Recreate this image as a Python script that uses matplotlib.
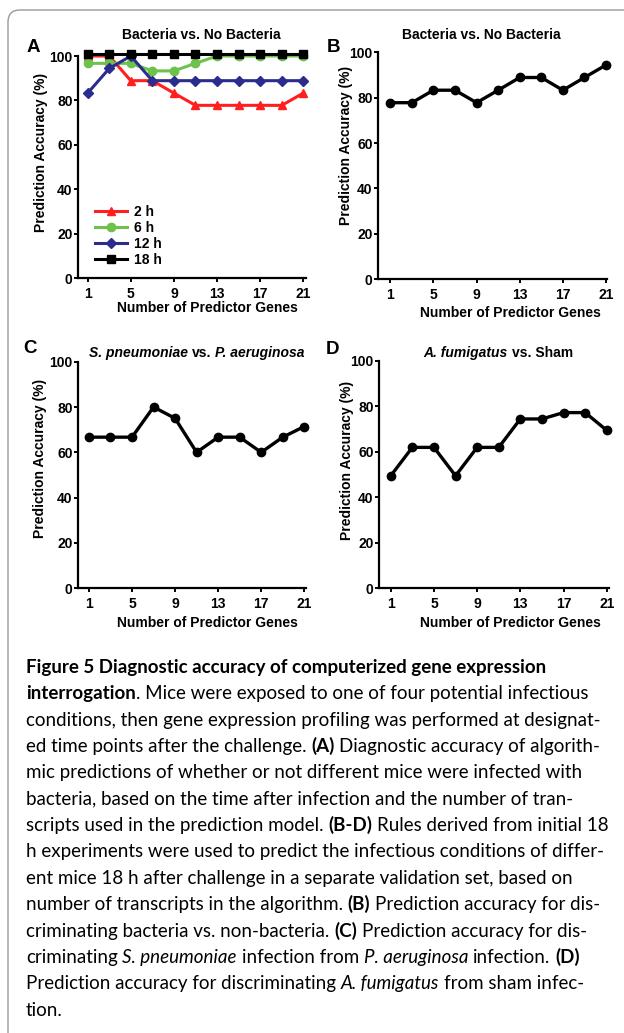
import re
import matplotlib
matplotlib.use('Agg')
import matplotlib.pyplot as plt
from matplotlib.patches import FancyBboxPatch
from matplotlib.transforms import IdentityTransform

W, H = 624, 1033
fig = plt.figure(figsize=(W / 100, H / 100), dpi=100)
renderer = fig.canvas.get_renderer()

# data
n_genes = [1, 3, 5, 7, 9, 11, 13, 15, 17, 19, 21]
acc_2h = [100, 100, 88.9, 88.9, 83.3, 77.8, 77.8, 77.8, 77.8, 77.8, 83.3]
acc_6h = [96.7, 96.7, 96.7, 93.3, 93.3, 96.7, 100, 100, 100, 100, 100]
acc_12h = [83.3, 94.4, 100, 88.9, 88.9, 88.9, 88.9, 88.9, 88.9, 88.9, 88.9]
acc_18h = [100.7] * 11
acc_b = [77.8, 77.8, 83.3, 83.3, 77.8, 83.3, 88.9, 88.9, 83.3, 88.9, 94.4]
acc_c = [66.7, 66.7, 66.7, 80, 75, 60, 66.7, 66.7, 60, 66.7, 71.4]
acc_d = [49.5, 62, 62, 49.5, 62, 62, 74.5, 74.5, 77.3, 77.3, 69.5]

series_a = [('2 h', acc_2h, '#ff1f1f', '^', 6),
            ('6 h', acc_6h, '#6cc24a', 'o', 6),
            ('12 h', acc_12h, '#2b2d8e', 'D', 5),
            ('18 h', acc_18h, '#000000', 's', 5.5)]

x_ticks = [1, 5, 9, 13, 17, 21]
y_ticks = [0, 20, 40, 60, 80, 100]

titles = ['Bacteria vs. No Bacteria', 'Bacteria vs. No Bacteria',
          '_S. pneumoniae_ vs. _P. aeruginosa_', '_A. fumigatus_ vs. Sham']
letters = ['A', 'B', 'C', 'D']

caption = [
    "**Figure 5 Diagnostic accuracy of computerized gene expression**",
    "**interrogation**. Mice were exposed to one of four potential infectious",
    "conditions, then gene expression profiling was performed at designat-",
    "ed time points after the challenge. **(A)** Diagnostic accuracy of algorith-",
    "mic predictions of whether or not different mice were infected with",
    "bacteria, based on the time after infection and the number of tran-",
    "scripts used in the prediction model. **(B-D)** Rules derived from initial 18",
    "h experiments were used to predict the infectious conditions of differ-",
    "ent mice 18 h after challenge in a separate validation set, based on",
    "number of transcripts in the algorithm. **(B)** Prediction accuracy for dis-",
    "criminating bacteria vs. non-bacteria. **(C)** Prediction accuracy for dis-",
    "criminating _S. pneumoniae_ infection from _P. aeruginosa_ infection. **(D)**",
    "Prediction accuracy for discriminating _A. fumigatus_ from sham infec-",
    "tion.",
]

CHART_FONT = ['Liberation Sans', 'DejaVu Sans']
CAP_FONT = ['Lato', 'DejaVu Sans']


def rich_segments(line):
    segs = []
    pos = 0
    for m in re.finditer(r'\*\*(.+?)\*\*|_(.+?)_', line):
        if m.start() > pos:
            segs.append((line[pos:m.start()], 'normal'))
        if m.group(1):
            segs.append((m.group(1), 'bold'))
        else:
            segs.append((m.group(2), 'italic'))
        pos = m.end()
    if pos < len(line):
        segs.append((line[pos:], 'normal'))
    return segs


def props(style, size, family, bold):
    return dict(fontsize=size, family=family,
                fontweight='bold' if (bold or style == 'bold') else 'normal',
                fontstyle='italic' if style == 'italic' else 'normal')


def text_w(s, kw):
    t = fig.text(0, 0, s, **kw)
    w = t.get_window_extent(renderer).width
    t.remove()
    return w


def advance(s, kw):
    # width between two guard glyphs, so spaces and bearings count
    return text_w('|' + s + '|', kw) - text_w('||', kw)


def layout_rich(line, size, family, bold):
    items = []  # (x offset, text, props)
    x = 0
    for text, style in rich_segments(line):
        kw = props(style, size, family, bold)
        base = props('normal', size, family, bold)
        lead = len(text) - len(text.lstrip(' '))
        trail = len(text) - len(text.rstrip(' '))
        core = text.strip(' ')
        x += lead * advance(' ', base)
        if core:
            items.append((x, core, kw))
            x += advance(core, kw)
        x += trail * advance(' ', base)
    return items, x


def draw_rich(line, x, y, size, family, bold=False, ha='left'):
    items, total = layout_rich(line, size, family, bold)
    x0 = x - total / 2 if ha == 'center' else x
    for dx, s, kw in items:
        fig.text((x0 + dx) / W, 1 - y / H, s, va='baseline', ha='left', **kw)
    return total


def px_axes(l, t, r, b):
    return fig.add_axes([l / W, 1 - b / H, (r - l) / W, (b - t) / H])


def style_axes(ax, xlim):
    ax.set_xlim(*xlim)
    ax.set_ylim(0, 100)
    ax.set_xticks(x_ticks)
    ax.set_yticks(y_ticks)
    for s in ['top', 'right']:
        ax.spines[s].set_visible(False)
    for s in ['left', 'bottom']:
        ax.spines[s].set_linewidth(1.6)
    ax.tick_params(axis='both', width=1.4, length=3, labelsize=10, direction='out')
    ax.tick_params(axis='y', pad=1)
    ax.tick_params(axis='x', pad=3)
    for lab in ax.get_xticklabels() + ax.get_yticklabels():
        lab.set_fontweight('bold')
        lab.set_family(CHART_FONT)
    ax.patch.set_alpha(0)


# axes boxes in pixels: left, top(100), right, bottom(0) and x limits
ax_a = px_axes(78.3, 56, 306, 278.3)
ax_b = px_axes(378.3, 52.3, 607, 279.3)
ax_c = px_axes(78.3, 361.7, 306, 588.3)
ax_d = px_axes(379.3, 361, 609, 588.3)

style_axes(ax_a, (0.13, 21.25))
style_axes(ax_b, (-0.11, 21.09))
style_axes(ax_c, (0.01, 21.16))
style_axes(ax_d, (-0.06, 21.21))

for label, vals, col, mk, ms in series_a:
    ax_a.plot(n_genes, vals, color=col, marker=mk, ms=ms, lw=2.2,
              label=label, clip_on=False, zorder=3)
leg = ax_a.legend(loc='lower left', bbox_to_anchor=(0.075, 0.05), frameon=False,
                  borderaxespad=0, borderpad=0, handlelength=2.3,
                  handletextpad=0.5, labelspacing=0.15,
                  prop=dict(family=CHART_FONT, weight='bold', size=10))

for ax, vals in [(ax_b, acc_b), (ax_c, acc_c), (ax_d, acc_d)]:
    ax.plot(n_genes, vals, color='black', marker='o', ms=6, lw=2.4,
            clip_on=False, zorder=3)

# axis labels, titles, panel letters (pixel positions)
ylab_pos = [(41, 152), (346, 145), (40, 458), (347, 460)]
xlab_pos = [(207, 308), (510, 313), (207, 623), (510, 623)]
title_pos = [(201, 39), (481, 39), (197, 356.7), (498, 357.3)]
letter_pos = [(26.5, 52), (327, 51.7), (23.5, 353.3), (326, 354)]

for i in range(4):
    x, y = ylab_pos[i]
    fig.text(x / W, 1 - y / H, 'Prediction Accuracy (%)', rotation=90,
             ha='center', va='center', fontsize=10, fontweight='bold',
             family=CHART_FONT)
    x, y = xlab_pos[i]
    fig.text(x / W, 1 - y / H, 'Number of Predictor Genes', ha='center',
             va='center', fontsize=10, fontweight='bold', family=CHART_FONT)
    x, y = title_pos[i]
    draw_rich(titles[i], x, y, 10, CHART_FONT, bold=True, ha='center')
    x, y = letter_pos[i]
    fig.text(x / W, 1 - y / H, letters[i], ha='left', va='baseline',
             fontsize=13.5, fontweight='bold', family=CHART_FONT)

# caption, sized so the widest line fits the text block
cap_left, cap_right = 26, 611
w10 = max(layout_rich(line, 10, CAP_FONT, False)[1] for line in caption)
cap_size = 10 * (cap_right - cap_left) / w10
for i, line in enumerate(caption):
    draw_rich(line, cap_left, 673 + i * 26.35, cap_size, CAP_FONT)

# frame around the figure (top and left edges visible)
frame = FancyBboxPatch((8, -60), W + 80, H - 10 + 60,
                       boxstyle='round,pad=0,rounding_size=12',
                       transform=IdentityTransform(), fill=False,
                       edgecolor='#9a9a9a', lw=1.0)
fig.patches.append(frame)

fig.savefig('out.png', dpi=100)
